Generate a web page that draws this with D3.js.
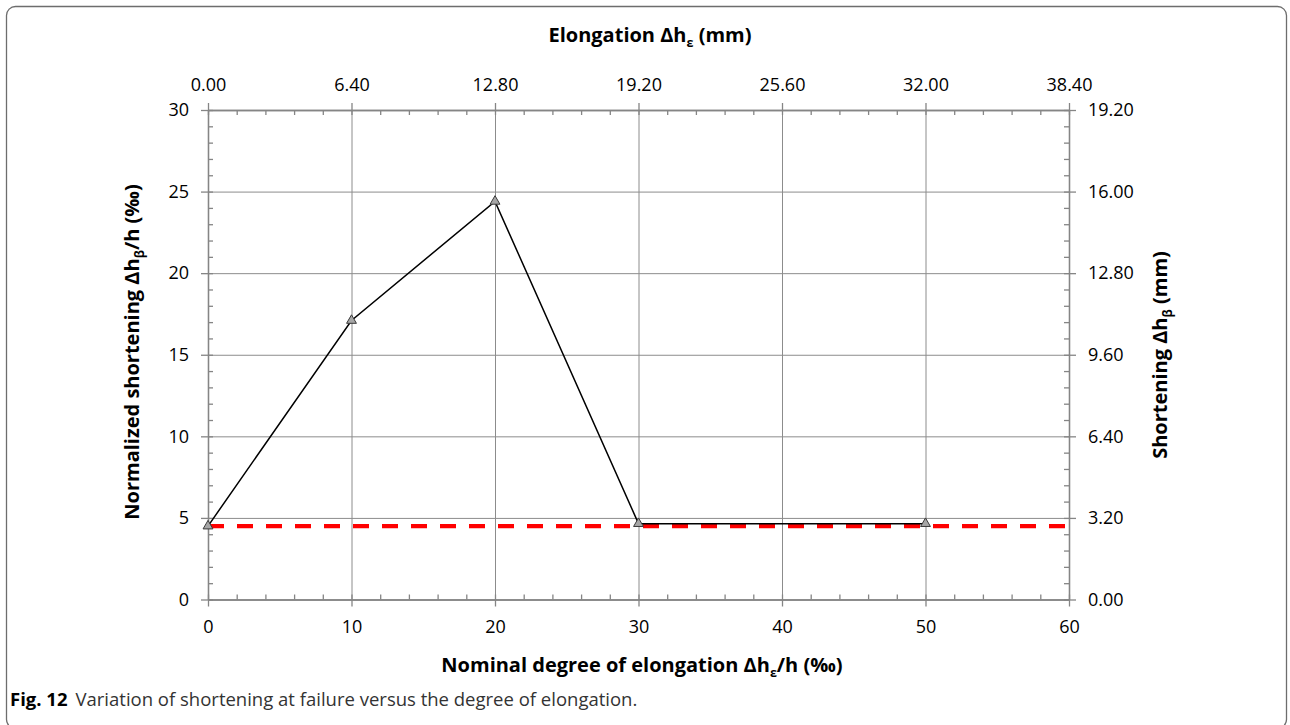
<!DOCTYPE html>
<html>
<head>
<meta charset="utf-8">
<script src="https://cdn.jsdelivr.net/npm/d3@7"></script>
<style>
  html, body { margin: 0; padding: 0; background: #fff; }
  svg { display: block; }
  .tick text { font-family: "Open Sans", sans-serif; font-size: 18px; fill: #000; }
  .title { font-family: "Open Sans", sans-serif; font-weight: bold; font-size: 20px; fill: #000; }
  .caption { font-family: "Open Sans", sans-serif; font-size: 18.5px; fill: #333; }
</style>
</head>
<body>
<script>
// ---- data ----
const elongation = [0, 10, 20, 30, 50];          // nominal degree of elongation (‰)
const shortening = [4.5, 17.1, 24.4, 4.65, 4.65]; // normalized shortening (‰)
const baselineValue = 4.5;                        // red dashed reference
const xTicks = [0, 10, 20, 30, 40, 50, 60];
const yTicks = [0, 5, 10, 15, 20, 25, 30];
const topTicks = [0, 6.4, 12.8, 19.2, 25.6, 32, 38.4];   // mm
const rightTicks = [0, 3.2, 6.4, 9.6, 12.8, 16, 19.2];   // mm

const W = 1290, H = 725;
const pL = 208, pR = 1069, pT = 110, pB = 599.5;

const svg = d3.select("body").append("svg").attr("width", W).attr("height", H);

// frame
svg.append("rect").attr("x", 6.5).attr("y", 6.5).attr("width", 1280).attr("height", 722)
  .attr("rx", 9).attr("fill", "none").attr("stroke", "#6d6d6d").attr("stroke-width", 1.3);

const x = d3.scaleLinear().domain([0, 60]).range([pL, pR]);
const y = d3.scaleLinear().domain([0, 30]).range([pB, pT]);
const xmm = d3.scaleLinear().domain([0, 38.4]).range([pL, pR]);
const ymm = d3.scaleLinear().domain([0, 19.2]).range([pB, pT]);

const gridColor = "#8c8c8c";
const axisColor = "#858585";

// gridlines
const gx = svg.append("g").attr("transform", `translate(0,${pB})`)
  .call(d3.axisBottom(x).tickValues(xTicks.slice(1, -1)).tickSize(-(pB - pT)).tickFormat(""));
const gy = svg.append("g").attr("transform", `translate(${pL},0)`)
  .call(d3.axisLeft(y).tickValues(yTicks.slice(1, -1)).tickSize(-(pR - pL)).tickFormat(""));
[gx, gy].forEach(g => {
  g.select(".domain").remove();
  g.selectAll("line").attr("stroke", gridColor).attr("stroke-width", 1);
});

function styleAxis(g) {
  g.selectAll(".domain").attr("stroke", axisColor).attr("stroke-width", 1.3);
  g.selectAll("line").attr("stroke", axisColor).attr("stroke-width", 1.3);
}
const range = (a, b, s) => d3.range(Math.round((b - a) / s) + 1).map(i => +(a + i * s).toFixed(4));

// bottom axis
const bMinor = svg.append("g").attr("transform", `translate(0,${pB})`)
  .call(d3.axisBottom(x).tickValues(range(0, 60, 2)).tickSize(-5).tickSizeOuter(0).tickFormat(""));
const bMajor = svg.append("g").attr("transform", `translate(0,${pB})`)
  .call(d3.axisBottom(x).tickValues(xTicks).tickSize(7).tickSizeOuter(0).tickPadding(14).tickFormat(d3.format("d")));
// top axis
const tMinor = svg.append("g").attr("transform", `translate(0,${pT})`)
  .call(d3.axisTop(xmm).tickValues(range(0, 38.4, 1.28)).tickSize(-5).tickSizeOuter(0).tickFormat(""));
const tMajor = svg.append("g").attr("transform", `translate(0,${pT})`)
  .call(d3.axisTop(xmm).tickValues(topTicks).tickSize(7).tickSizeOuter(0).tickPadding(12).tickFormat(d3.format(".2f")));
// left axis
const lMinor = svg.append("g").attr("transform", `translate(${pL},0)`)
  .call(d3.axisLeft(y).tickValues(range(0, 30, 1)).tickSize(-5).tickSizeOuter(0).tickFormat(""));
const lMajor = svg.append("g").attr("transform", `translate(${pL},0)`)
  .call(d3.axisLeft(y).tickValues(yTicks).tickSize(7).tickSizeOuter(0).tickPadding(12).tickFormat(d3.format("d")));
// right axis
const rMinor = svg.append("g").attr("transform", `translate(${pR},0)`)
  .call(d3.axisRight(ymm).tickValues(range(0, 19.2, 0.64)).tickSize(-5).tickSizeOuter(0).tickFormat(""));
const rMajor = svg.append("g").attr("transform", `translate(${pR},0)`)
  .call(d3.axisRight(ymm).tickValues(rightTicks).tickSize(7).tickSizeOuter(0).tickPadding(12).tickFormat(d3.format(".2f")));
[bMinor, bMajor, tMinor, tMajor, lMinor, lMajor, rMinor, rMajor].forEach(styleAxis);

// red dashed baseline
svg.append("line")
  .attr("x1", x(0)).attr("x2", x(60)).attr("y1", y(baselineValue)).attr("y2", y(baselineValue))
  .attr("stroke", "#ff0000").attr("stroke-width", 4.2).attr("stroke-dasharray", "16,13");

// data line
const pts = elongation.map((e, i) => [e, shortening[i]]);
svg.append("path").datum(pts)
  .attr("d", d3.line().x(d => x(d[0])).y(d => y(d[1])))
  .attr("fill", "none").attr("stroke", "#000").attr("stroke-width", 1.5);

// triangle markers
const tri = d3.symbol().type(d3.symbolTriangle).size(42);
svg.selectAll(".mk").data(pts).enter().append("path")
  .attr("transform", d => `translate(${x(d[0])},${y(d[1])})`)
  .attr("d", tri).attr("fill", "#a6a6a6").attr("stroke", "#3a3a3a").attr("stroke-width", 1);

// titles
function subTitle(sel, parts) {
  parts.forEach(p => {
    const t = sel.append("tspan").text(p.t);
    if (p.sub) t.attr("font-size", "12.5px").attr("dy", "5");
    if (p.back) t.attr("dy", "-5");
  });
}
const topT = svg.append("text").attr("class", "title").attr("x", 650).attr("y", 42).attr("text-anchor", "middle");
subTitle(topT, [{t: "Elongation Δh"}, {t: "ε", sub: true}, {t: " (mm)", back: true}]);

const botT = svg.append("text").attr("class", "title").attr("x", 642).attr("y", 672).attr("text-anchor", "middle");
subTitle(botT, [{t: "Nominal degree of elongation Δh"}, {t: "ε", sub: true}, {t: "/h (‰)", back: true}]);

const leftT = svg.append("text").attr("class", "title").attr("text-anchor", "middle")
  .attr("transform", "translate(139,352) rotate(-90)");
subTitle(leftT, [{t: "Normalized shortening Δh"}, {t: "β", sub: true}, {t: "/h (‰)", back: true}]);

const rightT = svg.append("text").attr("class", "title").attr("text-anchor", "middle")
  .attr("transform", "translate(1167,355) rotate(-90)");
subTitle(rightT, [{t: "Shortening Δh"}, {t: "β", sub: true}, {t: " (mm)", back: true}]);

// caption
const cap = svg.append("text").attr("class", "caption").attr("x", 10).attr("y", 706);
cap.append("tspan").attr("font-weight", "bold").attr("fill", "#000").text("Fig. 12");
cap.append("tspan").attr("dx", 8).text("Variation of shortening at failure versus the degree of elongation.");
</script>
</body>
</html>
